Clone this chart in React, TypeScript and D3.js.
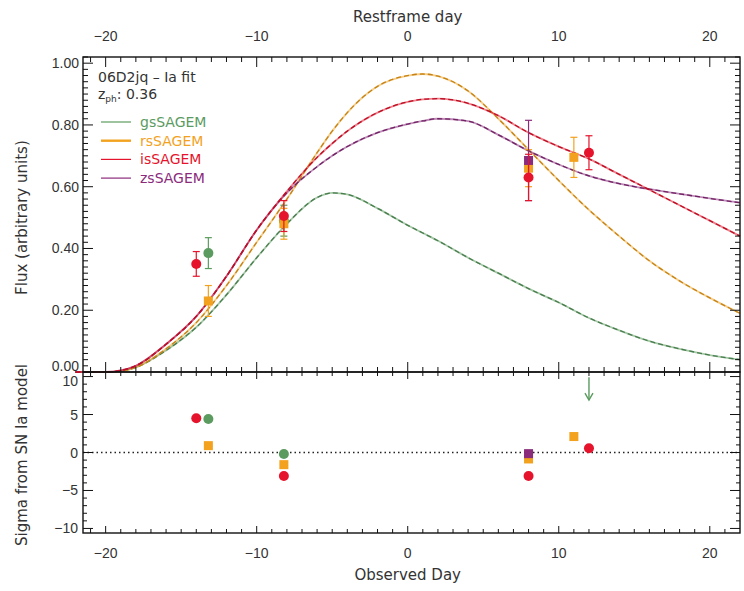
import React from "react";
import * as d3 from "d3";

const W = 744;
const H = 591;
const X0 = 83;
const X1 = 740;
const TOP = 57;
const MID = 372;
const BOT = 533;

// model light curves (observed day grid)
const curveDays = [-22, -20, -19, -18, -16, -14, -12, -10, -8, -6, -5, -4, -2, 0, 1, 2, 4, 6, 8, 10, 12, 14, 16, 18, 20, 22];
const gsModel = [0, 0, 0.003, 0.015, 0.07, 0.145, 0.25, 0.37, 0.48, 0.565, 0.58, 0.575, 0.53, 0.475, 0.45, 0.425, 0.37, 0.32, 0.27, 0.225, 0.175, 0.135, 0.1, 0.075, 0.055, 0.04];
const rsModel = [0, 0, 0.003, 0.015, 0.075, 0.16, 0.28, 0.42, 0.56, 0.71, 0.78, 0.84, 0.925, 0.96, 0.965, 0.958, 0.91, 0.82, 0.72, 0.62, 0.525, 0.44, 0.36, 0.295, 0.24, 0.19];
const isModel = [0, 0, 0.005, 0.02, 0.09, 0.18, 0.31, 0.46, 0.585, 0.695, 0.74, 0.78, 0.84, 0.875, 0.883, 0.885, 0.87, 0.83, 0.775, 0.73, 0.69, 0.64, 0.59, 0.54, 0.49, 0.44];
const zsModel = [0, 0, 0.005, 0.02, 0.09, 0.18, 0.31, 0.46, 0.58, 0.665, 0.7, 0.73, 0.775, 0.803, 0.813, 0.82, 0.812, 0.768, 0.716, 0.672, 0.635, 0.61, 0.592, 0.577, 0.562, 0.548];

// photometry
const gsDays = [-13.2, -8.2];
const gsFlux = [0.385, 0.49];
const gsErr = [0.05, 0.05];
const gsSigma = [4.4, -0.2];
const gsLimitDay = 12;

const rsDays = [-13.2, -8.2, 8, 11];
const rsFlux = [0.23, 0.48, 0.66, 0.695];
const rsErr = [0.05, 0.05, 0.06, 0.065];
const rsSigma = [0.9, -1.6, -0.85, 2.1];

const isDays = [-14, -8.2, 8, 12];
const isFlux = [0.35, 0.505, 0.63, 0.71];
const isErr = [0.04, 0.05, 0.075, 0.055];
const isSigma = [4.5, -3.1, -3.1, 0.55];

const zsDays = [8];
const zsFlux = [0.685];
const zsErr = [0.13];
const zsSigma = [-0.15];

const xTicks = [-20, -10, 0, 10, 20];
const fluxTicks = [0, 0.2, 0.4, 0.6, 0.8, 1.0];
const sigmaTicks = [-10, -5, 0, 5, 10];

const GREEN = "#5b9b5f";
const ORANGE = "#f2a21e";
const RED = "#e5132b";
const PURPLE = "#8b2b7c";

const FONT = "Liberation Sans, Arial, Helvetica, sans-serif";
const WIDE = "DejaVu Sans, Verdana, sans-serif";

const x = d3.scaleLinear().domain([-21.5, 22]).range([X0, X1]);
const yF = d3.scaleLinear().domain([0, 1.02]).range([MID, TOP]);
const yS = d3.scaleLinear().domain([-10.6, 10.6]).range([BOT, MID]);

const bands = [
  { name: "gsSAGEM", color: GREEN, model: gsModel, days: gsDays, flux: gsFlux, err: gsErr, sigma: gsSigma, shape: "circle", lw: 1.2 },
  { name: "rsSAGEM", color: ORANGE, model: rsModel, days: rsDays, flux: rsFlux, err: rsErr, sigma: rsSigma, shape: "square", lw: 2.4 },
  { name: "isSAGEM", color: RED, model: isModel, days: isDays, flux: isFlux, err: isErr, sigma: isSigma, shape: "circle", lw: 1.2 },
  { name: "zsSAGEM", color: PURPLE, model: zsModel, days: zsDays, flux: zsFlux, err: zsErr, sigma: zsSigma, shape: "square", lw: 1.2 },
];

function Marker({ cx, cy, shape, color }) {
  if (shape === "square") {
    return <rect x={cx - 4.5} y={cy - 4.5} width={9} height={9} fill={color} />;
  }
  return <circle cx={cx} cy={cy} r={5} fill={color} />;
}

export default function App() {
  const line = d3
    .line<number>()
    .x((_, i) => x(curveDays[i]))
    .y((d) => yF(d))
    .curve(d3.curveMonotoneX);

  const minorX = d3.range(-21, 23, 1).filter((d) => d % 10 !== 0 && x(d) < X1 - 1);
  const minorF = d3.range(0, 1.021, 0.02).filter((d) => Math.abs((d * 5) % 1) > 0.01 && Math.abs((d * 5) % 1) < 0.99);
  const minorS = d3.range(-10, 11, 1).filter((d) => d % 5 !== 0);

  const tick = (key, x1, y1, x2, y2) => <line key={key} x1={x1} y1={y1} x2={x2} y2={y2} stroke="#111" strokeWidth={1} />;

  const order = [bands[0], bands[1], bands[3], bands[2]];

  return (
    <svg width={W} height={H} style={{ position: "absolute", left: 0, top: 0, background: "#fff" }} fontFamily={FONT}>
      <rect width={W} height={H} fill="#fff" />

      {/* model curves */}
      {[bands[0], bands[1], bands[3], bands[2]].map((b) => (
        <g key={b.name}>
          <path d={line(b.model)} fill="none" stroke={b.color} strokeWidth={1.8} strokeOpacity={0.55} />
          <path
            d={line(b.model)}
            fill="none"
            stroke={d3.color(b.color).darker(0.6).toString()}
            strokeWidth={1.3}
            strokeDasharray="5 3"
          />
        </g>
      ))}

      {/* upper panel points with error bars */}
      {order.map((b) =>
        b.days.map((d, i) => {
          const cx = x(d);
          const top = yF(b.flux[i] + b.err[i]);
          const bot = yF(b.flux[i] - b.err[i]);
          return (
            <g key={b.name + i}>
              <line x1={cx} x2={cx} y1={top} y2={bot} stroke={b.color} strokeWidth={1.2} />
              <line x1={cx - 3.5} x2={cx + 3.5} y1={top} y2={top} stroke={b.color} strokeWidth={1.2} />
              <line x1={cx - 3.5} x2={cx + 3.5} y1={bot} y2={bot} stroke={b.color} strokeWidth={1.2} />
              <Marker cx={cx} cy={yF(b.flux[i])} shape={b.shape} color={b.color} />
            </g>
          );
        })
      )}

      {/* lower panel */}
      <line x1={X0} x2={X1} y1={yS(0)} y2={yS(0)} stroke="#222" strokeWidth={1.5} strokeDasharray="1.5 3" />
      {order.map((b) =>
        b.days.map((d, i) => (
          <Marker key={b.name + "s" + i} cx={x(d)} cy={yS(b.sigma[i])} shape={b.shape} color={b.color} />
        ))
      )}
      <g stroke={GREEN} strokeWidth={1.4} fill="none">
        <line x1={x(gsLimitDay)} x2={x(gsLimitDay)} y1={yS(9.9)} y2={yS(6.9)} />
        <polyline points={`${x(gsLimitDay) - 4},${yS(6.9) - 7} ${x(gsLimitDay)},${yS(6.9)} ${x(gsLimitDay) + 4},${yS(6.9) - 7}`} />
      </g>

      {/* frames */}
      <rect x={X0} y={TOP} width={X1 - X0} height={MID - TOP} fill="none" stroke="#111" strokeWidth={1.4} />
      <rect x={X0} y={MID} width={X1 - X0} height={BOT - MID} fill="none" stroke="#111" strokeWidth={1.4} />

      {/* x ticks */}
      {xTicks.map((d) => (
        <g key={"xt" + d}>
          {tick("a", x(d), TOP, x(d), TOP + 10)}
          {tick("b", x(d), MID, x(d), MID - 10)}
          {tick("c", x(d), MID, x(d), MID + 7)}
          {tick("d", x(d), BOT, x(d), BOT - 7)}
        </g>
      ))}
      {minorX.map((d) => (
        <g key={"xm" + d}>
          {tick("a", x(d), TOP, x(d), TOP + 5)}
          {tick("b", x(d), MID, x(d), MID - 5)}
          {tick("c", x(d), MID, x(d), MID + 4)}
          {tick("d", x(d), BOT, x(d), BOT - 4)}
        </g>
      ))}

      {/* flux ticks */}
      {fluxTicks.map((v) => (
        <g key={"ft" + v}>
          {tick("a", X0, yF(v), X0 + 10, yF(v))}
          {tick("b", X1, yF(v), X1 - 10, yF(v))}
        </g>
      ))}
      {minorF.map((v) => (
        <g key={"fm" + v}>
          {tick("a", X0, yF(v), X0 + 5, yF(v))}
          {tick("b", X1, yF(v), X1 - 5, yF(v))}
        </g>
      ))}

      {/* sigma ticks */}
      {sigmaTicks.map((v) => (
        <g key={"st" + v}>
          {tick("a", X0, yS(v), X0 + 10, yS(v))}
          {tick("b", X1, yS(v), X1 - 10, yS(v))}
        </g>
      ))}
      {minorS.map((v) => (
        <g key={"sm" + v}>
          {tick("a", X0, yS(v), X0 + 4, yS(v))}
          {tick("b", X1, yS(v), X1 - 4, yS(v))}
        </g>
      ))}

      {/* tick labels */}
      <g fontSize={14} fill="#333">
        {xTicks.map((d) => (
          <text key={"tl" + d} x={x(d)} y={41} textAnchor="middle">
            {d < 0 ? "\u2212" + Math.abs(d) : d}
          </text>
        ))}
        {xTicks.map((d) => (
          <text key={"bl" + d} x={x(d)} y={558} textAnchor="middle">
            {d < 0 ? "\u2212" + Math.abs(d) : d}
          </text>
        ))}
        {fluxTicks.map((v) => (
          <text key={"fl" + v} x={X0 - 4} y={v === 0 ? yF(v) - 1 : yF(v) + 5} textAnchor="end">
            {v.toFixed(2)}
          </text>
        ))}
        {sigmaTicks.map((v) => (
          <text key={"sl" + v} x={X0 - 5} y={v === 10 ? yS(v) + 9 : yS(v) + 5} textAnchor="end">
            {v < 0 ? "\u2212" + Math.abs(v) : v}
          </text>
        ))}
      </g>

      {/* titles */}
      <g fontSize={15} fill="#333" fontFamily={WIDE}>
        <text x={x(0)} y={22} textAnchor="middle">Restframe day</text>
        <text x={x(0)} y={580} textAnchor="middle">Observed Day</text>
        <text transform={`translate(27, ${yF(0.5)}) rotate(-90)`} textAnchor="middle">Flux (arbitrary units)</text>
        <text transform={`translate(27, 455) rotate(-90)`} textAnchor="middle">Sigma from SN Ia model</text>
      </g>

      {/* annotation & legend */}
      <g fontSize={14} fill="#333" fontFamily={WIDE}>
        <text x={98} y={82}>06D2jq – Ia fit</text>
        <text x={98} y={99}>
          z<tspan fontSize={9} dy={3}>ph</tspan>
          <tspan dy={-3}>: 0.36</tspan>
        </text>
      </g>
      {bands.map((b, i) => (
        <g key={"lg" + b.name}>
          <line x1={101} x2={131} y1={122 + i * 18.7} y2={122 + i * 18.7} stroke={b.color} strokeWidth={b.lw} />
          <text x={140} y={127 + i * 18.7} fontSize={14} fill={b.color} fontFamily={WIDE}>
            {b.name}
          </text>
        </g>
      ))}
    </svg>
  );
}
